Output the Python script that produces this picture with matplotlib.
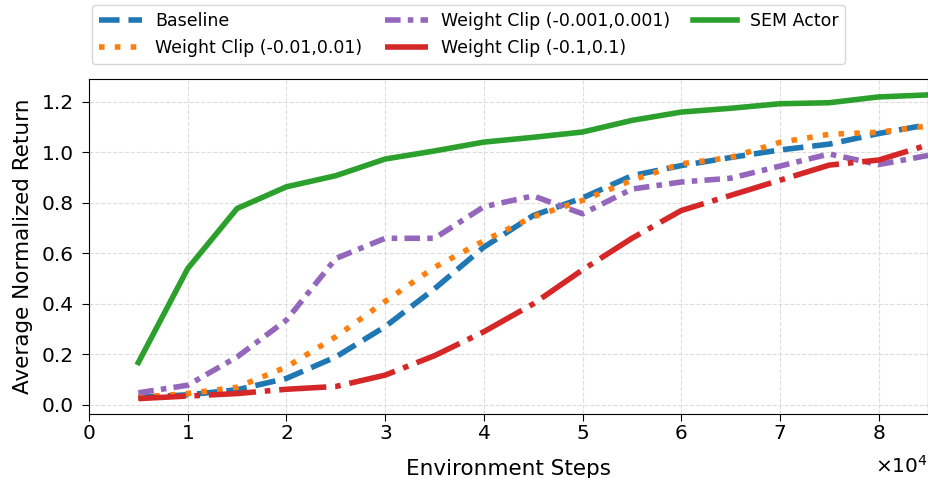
import matplotlib
matplotlib.use("Agg")
import matplotlib.pyplot as plt
import numpy as np

# environment steps (x1e4 shown via offset text)
steps = [5000, 10000, 15000, 20000, 25000, 30000, 35000, 40000, 45000,
         50000, 55000, 60000, 65000, 70000, 75000, 80000, 85000]

baseline = [0.03, 0.04, 0.06, 0.105, 0.19, 0.31, 0.46, 0.625, 0.75,
            0.82, 0.908, 0.948, 0.98, 1.01, 1.033, 1.075, 1.11]
clip_001 = [0.03, 0.045, 0.07, 0.15, 0.27, 0.41, 0.545, 0.65, 0.745,
            0.81, 0.89, 0.955, 0.98, 1.04, 1.072, 1.08, 1.105]
clip_0001 = [0.048, 0.078, 0.19, 0.336, 0.58, 0.66, 0.66, 0.785, 0.828,
             0.757, 0.855, 0.883, 0.898, 0.946, 0.994, 0.952, 0.988]
clip_01 = [0.025, 0.035, 0.045, 0.062, 0.073, 0.118, 0.195, 0.29, 0.4,
           0.535, 0.66, 0.77, 0.83, 0.89, 0.95, 0.97, 1.03]
sem_actor = [0.168, 0.54, 0.778, 0.864, 0.908, 0.974, 1.006, 1.041, 1.06,
             1.081, 1.127, 1.16, 1.175, 1.193, 1.197, 1.22, 1.228]

fig = plt.figure(figsize=(9.29, 4.78), dpi=100)
ax = fig.add_axes([89 / 929, 64 / 478, 839 / 929, 335 / 478])

lw = 4
ax.plot(steps, baseline, color="#1f77b4", lw=lw, ls="--", label="Baseline")
ax.plot(steps, clip_001, color="#ff7f0e", lw=lw, ls=(0, (1, 1.85)),
        label="Weight Clip (-0.01,0.01)")
ax.plot(steps, clip_0001, color="#9467bd", lw=lw, ls=(0, (2.8, 1.3, 1, 1.3)),
        label="Weight Clip (-0.001,0.001)")
ax.plot(steps, clip_01, color="#d62728", lw=lw, ls=(0, (8.5, 1.6, 1, 1.6)),
        label="Weight Clip (-0.1,0.1)")
ax.plot(steps, sem_actor, color="#2ca02c", lw=lw, ls="-", label="SEM Actor")

ax.set_xlim(0, 85000)
ax.set_ylim(-0.036, 1.291)
ax.set_xticks(np.arange(0, 85000, 10000))
ax.set_yticks(np.arange(0, 1.21, 0.2))
ax.ticklabel_format(axis="x", style="sci", scilimits=(4, 4), useMathText=True)
ax.tick_params(labelsize=14.5, length=5)
ax.tick_params(axis="x", pad=2.5)
ax.tick_params(axis="y", pad=6)
ax.xaxis.get_offset_text().set_fontsize(14.5)
ax.xaxis.OFFSETTEXTPAD = 8  # push the x10^4 a bit lower, like the original
ax.grid(True, ls="--", color="#dddddd", lw=0.8)
ax.set_xlabel("Environment Steps", fontsize=15.5, labelpad=11)
ax.set_ylabel("Average Normalized Return", fontsize=15.5, labelpad=6)

ax.legend(loc="lower left", bbox_to_anchor=(3 / 839, 1 + 15 / 335), borderaxespad=0,
          ncol=3, fontsize=12.5, frameon=True, handlelength=2.5,
          handletextpad=0.75, columnspacing=1.3)

fig.savefig("out.png", dpi=100)
